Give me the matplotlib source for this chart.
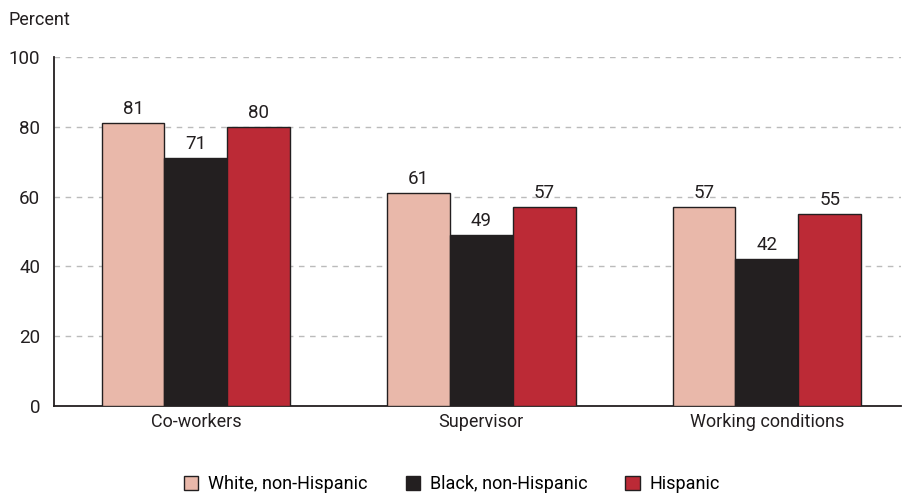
import matplotlib
matplotlib.use("Agg")
import matplotlib.pyplot as plt
import numpy as np

plt.rcParams['font.family'] = ['Roboto', 'DejaVu Sans']

categories = ["Co-workers", "Supervisor", "Working conditions"]
series_names = ["White, non-Hispanic", "Black, non-Hispanic", "Hispanic"]
white = [81, 61, 57]
black = [71, 49, 42]
hispanic = [80, 57, 55]
yticks = [0, 20, 40, 60, 80, 100]

colors = ["#E9B8AA", "#231F20", "#BC2A36"]

fig = plt.figure(figsize=(9.04, 4.99), dpi=100)
ax = fig.add_axes([54/904, 1-406/499, (901-54)/904, (406-57)/499])

x = np.arange(len(categories))
w = 0.22
for i, (vals, name, c) in enumerate(zip([white, black, hispanic], series_names, colors)):
    pos = x + (i - 1) * w
    ax.bar(pos, vals, w, color=c, edgecolor="#231F20", linewidth=1.0, label=name, zorder=3)
    for p, v in zip(pos, vals):
        ax.text(p, v + 1.5, str(v), ha="center", va="bottom", fontsize=13.5, color="#231F20", zorder=4)

ax.set_ylim(0, 100)
ax.set_xlim(-0.497, 2.47)
ax.set_yticks(yticks)
ax.set_yticklabels([str(t) for t in yticks], fontsize=13.5, color="#231F20")
ax.set_xticks(x)
ax.set_xticklabels(categories, fontsize=13, color="#231F20")
ax.tick_params(axis="x", length=0, pad=5)
ax.tick_params(axis="y", length=0, pad=10)
ax.yaxis.grid(True, linestyle=(0, (4, 4)), color="#BBBBBB", linewidth=1.0, zorder=0)
for s in ["top", "right"]:
    ax.spines[s].set_visible(False)
ax.spines["left"].set_color("#231F20")
ax.spines["bottom"].set_color("#231F20")
ax.spines["left"].set_linewidth(1.3)
ax.spines["bottom"].set_linewidth(1.3)

fig.text(8/904, 1-20/499, "Percent", fontsize=13, color="#231F20", va="center", ha="left")

fig.legend(loc="center", bbox_to_anchor=(0.5, 1-484/499), ncol=3, frameon=False,
           fontsize=13, handlelength=0.8, handleheight=0.8, columnspacing=2.1, handletextpad=0.55)

fig.savefig("out.png", dpi=100)
